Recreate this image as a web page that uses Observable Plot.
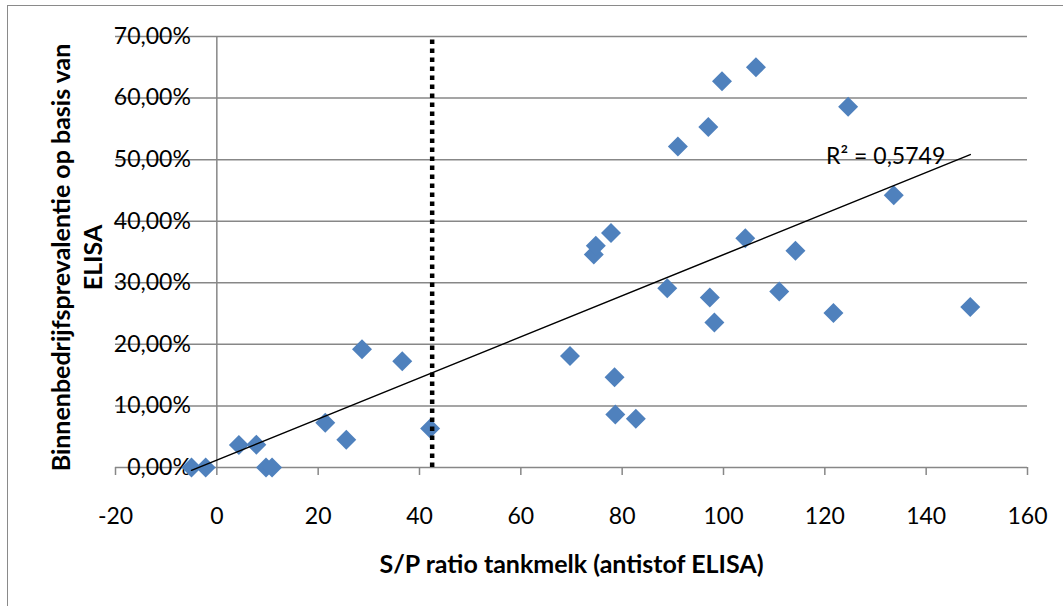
<!DOCTYPE html>
<html><head><meta charset="utf-8">
<script src="https://cdn.jsdelivr.net/npm/d3@7"></script>
<script src="https://cdn.jsdelivr.net/npm/@observablehq/plot@0.6"></script>
<style>
body{margin:0;background:#fff;}
#wrap{position:relative;width:1063px;height:606px;overflow:hidden;background:#fff;}
#border{position:absolute;left:7px;top:5px;width:1200px;height:800px;border:1.5px solid #8a8a8a;box-sizing:border-box;pointer-events:none;}
#chart{position:absolute;left:0;top:0;}
</style></head><body>
<div id="wrap"><div id="chart"></div><div id="border"></div></div>
<script>
// S/P ratio tankmelk (x) and within-herd prevalence in % (y)
const spRatio = [-5.0, -2.2, 4.35, 7.8, 9.7, 10.9, 21.4, 25.55, 28.65, 36.6, 42.1,
  69.7, 74.4, 74.8, 77.8, 78.5, 78.65, 82.7, 88.9, 91.0, 97.0, 97.3, 98.2, 99.7,
  104.3, 106.4, 111.0, 114.2, 121.7, 124.6, 133.6, 148.7];
const prevalence = [0, 0, 3.65, 3.7, 0, 0, 7.25, 4.5, 19.2, 17.25, 6.35,
  18.1, 34.6, 36.0, 38.1, 14.65, 8.6, 7.9, 29.1, 52.15, 55.3, 27.6, 23.55, 62.75,
  37.25, 65.0, 28.6, 35.2, 25.1, 58.6, 44.2, 26.05];
const xTicks = [-20, 0, 20, 40, 60, 80, 100, 120, 140, 160];
const yTicks = [0, 10, 20, 30, 40, 50, 60, 70];
const yTickLabels = ["0,00%", "10,00%", "20,00%", "30,00%", "40,00%", "50,00%", "60,00%", "70,00%"];
const cutoff = [42.5];
const r2Label = ["R\u00B2 = 0,5749"];
const xTitle = ["S/P ratio tankmelk (antistof ELISA)"];
const yTitle = ["Binnenbedrijfsprevalentie op basis van", "ELISA"];

const data = spRatio.map((x, i) => ({x, y: prevalence[i]}));
// least squares for label placement at the end of the trend line
const mx = d3.mean(spRatio), my = d3.mean(prevalence);
const slope = d3.sum(data, d => (d.x - mx) * (d.y - my)) / d3.sum(data, d => (d.x - mx) ** 2);
const xEnd = d3.max(spRatio);
const yEnd = my + slope * (xEnd - mx);

const grid = "#878787";
const font = "Lato, 'Open Sans', sans-serif";

const chart = Plot.plot({
  width: 1063, height: 606,
  marginLeft: 115, marginRight: 36, marginTop: 36, marginBottom: 139,
  style: {fontFamily: font, background: "transparent", color: "black"},
  x: {domain: [-20, 160]},
  y: {domain: [0, 70], axis: null},
  marks: [
    Plot.ruleY(yTicks, {stroke: grid, strokeWidth: 1.5}),
    Plot.ruleX([0], {y1: 0, y2: 70, stroke: grid, strokeWidth: 1.5}),
    Plot.axisX({ticks: xTicks, tickFormat: d => String(d), tickSize: 8, tickPadding: 32,
      stroke: grid, strokeWidth: 1.5, fill: "black", fontSize: 23, label: null}),
    Plot.text(yTicks, {x: 0, y: d => d, text: (d, i) => yTickLabels[i], textAnchor: "end",
      dx: -26, fontSize: 23, fill: "black"}),
    Plot.dot(data, {x: "x", y: "y", symbol: "diamond2", r: 9, fill: "#4f81bd", stroke: "none"}),
    Plot.linearRegressionY(data, {x: "x", y: "y", ci: 0, stroke: "black", strokeWidth: 1.5}),
    Plot.ruleX(cutoff, {y1: 0, y2: 70, stroke: "black", strokeWidth: 4.5, strokeDasharray: "4.5,4.5"}),
    Plot.text(r2Label, {x: () => xEnd, y: () => yEnd, text: d => d, textAnchor: "end",
      dx: -25, dy: 2, fontSize: 23, fill: "black"}),
    Plot.text(xTitle, {frameAnchor: "bottom", text: d => d, textAnchor: "middle", lineAnchor: "middle",
      dy: 97.5, fontSize: 25, fontWeight: "bold", fill: "black"}),
    Plot.text([yTitle.join("\n")], {frameAnchor: "left", text: d => d, textAnchor: "middle",
      lineAnchor: "middle", rotate: -90, dx: -39.5, dy: 5.5, fontSize: 25, fontWeight: "bold",
      lineHeight: 1.25, fill: "black"})
  ]
});
document.getElementById("chart").appendChild(chart);
</script>
</body></html>
